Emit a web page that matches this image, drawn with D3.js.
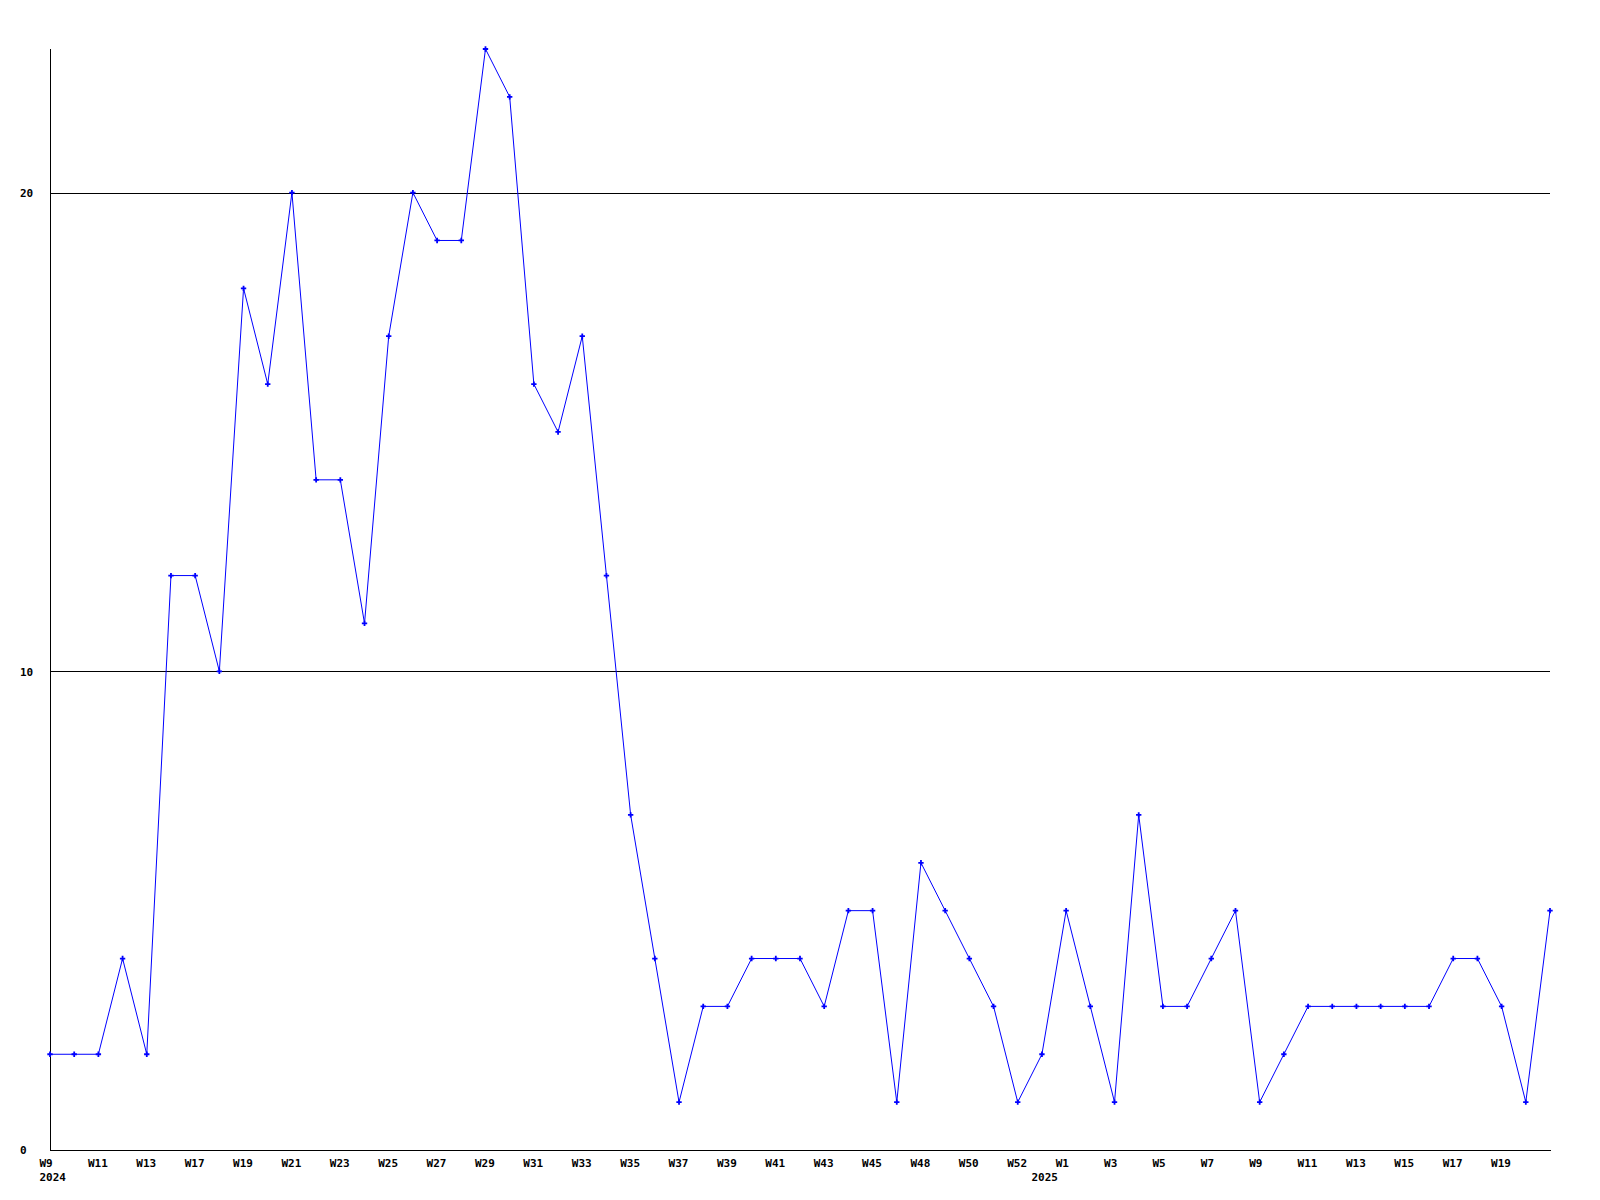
<!DOCTYPE html>
<html>
<head>
<meta charset="utf-8">
<script src="https://cdn.jsdelivr.net/npm/d3@7"></script>
<style>
  html, body { margin: 0; padding: 0; background: #ffffff; }
  svg { display: block; }
  text { font-family: "DejaVu Sans Mono", "Liberation Mono", monospace; font-weight: bold; font-size: 11px; fill: #000; }
</style>
</head>
<body>
<svg id="chart" width="1600" height="1200"></svg>
<script>
// ---- data ----
const values = [2,2,2,4,2,12,12,10,18,16,
                20,14,14,11,17,20,19,19,23,22,
                16,15,17,12,7,4,1,3,3,4,
                4,4,3,5,5,1,6,5,4,3,
                1,2,5,3,1,7,3,3,4,5,
                1,2,3,3,3,3,3,3,4,4,
                3,1,5];
const weekTickIndex = [0,2,4,6,8,10,12,14,16,18,20,22,24,26,28,30,32,34,36,38,40,42,44,46,48,50,52,54,56,58,60];
const weekTickLabel = ["W9","W11","W13","W17","W19","W21","W23","W25","W27","W29","W31","W33","W35","W37","W39","W41","W43","W45","W48","W50","W52","W1","W3","W5","W7","W9","W11","W13","W15","W17","W19"];
const yearTickIndex = [0, 41];
const yearTickLabel = ["2024", "2025"];
const yTicks = [0, 10, 20];
const yMax = 23;

// ---- layout ----
const svg = d3.select("#chart");
const x0 = 50, x1 = 1550, yBottom = 1150, yTop = 49;

const x = d3.scaleLinear().domain([0, values.length - 1]).range([x0, x1]);
const y = d3.scaleLinear().domain([0, yMax]).range([yBottom, yTop]);

// gridlines
svg.append("g").selectAll("line").data(yTicks.filter(d => d > 0)).join("line")
  .attr("x1", x0).attr("x2", x1)
  .attr("y1", d => Math.round(y(d)) + 0.5).attr("y2", d => Math.round(y(d)) + 0.5)
  .attr("stroke", "#000").attr("stroke-width", 1).attr("shape-rendering", "crispEdges");

// axes lines
svg.append("line").attr("x1", x0 + 0.5).attr("x2", x0 + 0.5).attr("y1", yTop).attr("y2", yBottom + 0.5)
  .attr("stroke", "#000").attr("shape-rendering", "crispEdges");
svg.append("line").attr("x1", x0).attr("x2", x1 + 1).attr("y1", yBottom + 0.5).attr("y2", yBottom + 0.5)
  .attr("stroke", "#000").attr("shape-rendering", "crispEdges");

// y labels
const yAxis = d3.axisLeft(y).tickValues(yTicks).tickSize(0).tickFormat(d3.format("d"));
const gy = svg.append("g").attr("transform", `translate(${x0},0)`).call(yAxis);
gy.select(".domain").remove();
gy.selectAll("text").attr("x", 20 - x0).attr("text-anchor", "start").attr("dy", "0.35em");

// x labels (weeks)
const xAxis = d3.axisBottom(x).tickValues(weekTickIndex).tickSize(0)
  .tickFormat(d => weekTickLabel[weekTickIndex.indexOf(d)]);
const gx = svg.append("g").attr("transform", `translate(0,${yBottom})`).call(xAxis);
gx.select(".domain").remove();
gx.selectAll("text").attr("text-anchor", "start").attr("x", -11).attr("y", 13).attr("dy", "0.35em");

// year labels
const yrAxis = d3.axisBottom(x).tickValues(yearTickIndex).tickSize(0)
  .tickFormat(d => yearTickLabel[yearTickIndex.indexOf(d)]);
const gyr = svg.append("g").attr("transform", `translate(0,${yBottom})`).call(yrAxis);
gyr.select(".domain").remove();
gyr.selectAll("text").attr("text-anchor", "start").attr("x", -11).attr("y", 27).attr("dy", "0.35em");

// series line
const line = d3.line().x((d, i) => x(i)).y(d => y(d));
svg.append("path").datum(values).attr("d", line)
  .attr("fill", "none").attr("stroke", "#0000ff").attr("stroke-width", 1);

// markers
const cross = d3.symbol().type(d3.symbolCross).size(16);
svg.append("g").selectAll("path").data(values).join("path")
  .attr("transform", (d, i) => `translate(${x(i)},${y(d)})`)
  .attr("d", cross).attr("fill", "#0000ff");
</script>
</body>
</html>
